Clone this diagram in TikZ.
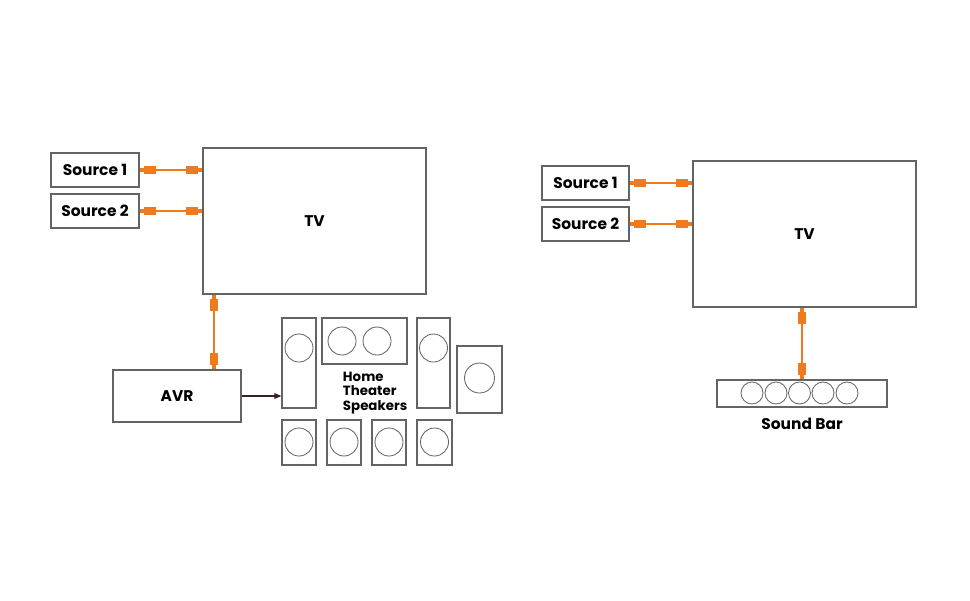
\documentclass[tikz,border=0pt]{standalone}
\usepackage{fontspec}
\setmainfont{Poppins}
\usetikzlibrary{arrows.meta}

\definecolor{cableorange}{RGB}{240,122,30}
\definecolor{boxgray}{RGB}{100,100,100}
\definecolor{arrowbrown}{RGB}{60,30,30}

\tikzset{
  box/.style={draw=boxgray, line width=0.8pt, inner sep=0pt, font=\bfseries\fontsize{11}{13}\selectfont},
  spk/.style={draw=boxgray, line width=0.8pt, inner sep=0pt},
  cone/.style={draw=boxgray, line width=0.6pt},
  plug/.tip={Rectangle[length=9pt, width=6pt] Rectangle[length=3pt, width=2.4pt]},
  cable/.style={cableorange, line width=1.1pt, {Rectangle[length=3pt, width=2.4pt] Rectangle[length=9pt, width=6pt]}-plug},
}

\begin{document}
\begin{tikzpicture}[x=0.025cm, y=-0.025cm]
    \useasboundingbox (0,0) rectangle (970,600);

    % left: tv with avr
    \node[box, minimum width=2.2cm, minimum height=0.85cm] (src1L) at (95, 170) {Source 1};
    \node[box, minimum width=2.2cm, minimum height=0.85cm] (src2L) at (95, 211) {Source 2};
    \node[box, minimum width=5.575cm, minimum height=3.65cm] (tvL) at (314.5, 221) {TV};
    \node[box, minimum width=3.2cm, minimum height=1.3cm] (avr) at (177, 396) {AVR};
    \coordinate (jackL) at ([xshift=0.2875cm]tvL.south west);

    \draw[cable] (src1L.east) -- (src1L.east -| tvL.west);
    \draw[cable] (src2L.east) -- (src2L.east -| tvL.west);
    \draw[cable] (jackL) -- (jackL |- avr.north);

    % speakers
    \node[spk, minimum width=0.85cm, minimum height=2.25cm] (fl) at (299, 363) {};
    \node[spk, minimum width=2.125cm, minimum height=1.15cm] (ctr) at (364.5, 341) {};
    \node[spk, minimum width=0.825cm, minimum height=2.25cm] (fr) at (433.5, 363) {};
    \node[spk, minimum width=1.125cm, minimum height=1.675cm] (sub) at (479.5, 379.5) {};
    \node[spk, minimum width=0.85cm, minimum height=1.125cm] (rl1) at (299, 442.5) {};
    \node[spk, minimum width=0.85cm, minimum height=1.125cm] (rl2) at (344, 442.5) {};
    \node[spk, minimum width=0.85cm, minimum height=1.125cm] (rr1) at (389, 442.5) {};
    \node[spk, minimum width=0.875cm, minimum height=1.125cm] (rr2) at (434.5, 442.5) {};

    \draw[cone] (299, 348) circle (14);
    \draw[cone] (342, 341) circle (14);
    \draw[cone] (377, 341) circle (14);
    \draw[cone] (433.5, 348) circle (14);
    \draw[cone] (479.5, 378) circle (15);
    \foreach \x in {299, 344, 389, 434.5}
      \draw[cone] (\x, 442) circle (14);

    \node[anchor=west, align=left, font=\bfseries\fontsize{9.5}{10.5}\selectfont] (hts) at (338, 393) {Home\\Theater\\Speakers};

    \draw[arrowbrown, line width=0.8pt, -{Triangle[length=5pt, width=4pt]}] (avr.east) -- (avr.east -| fl.west);

    % right: tv with sound bar
    \node[box, minimum width=2.175cm, minimum height=0.85cm] (src1R) at (585.5, 183) {Source 1};
    \node[box, minimum width=2.175cm, minimum height=0.85cm] (src2R) at (585.5, 224) {Source 2};
    \node[box, minimum width=5.575cm, minimum height=3.65cm] (tvR) at (804.5, 234) {TV};
    \node[box, minimum width=4.25cm, minimum height=0.675cm, label={[font=\bfseries\fontsize{11}{13}\selectfont, label distance=4pt]below:Sound Bar}] (bar) at (802, 393.5) {};

    \draw[cable] (src1R.east) -- (src1R.east -| tvR.west);
    \draw[cable] (src2R.east) -- (src2R.east -| tvR.west);
    \draw[cable] (tvR.south -| bar.north) -- (bar.north);

    \foreach \x in {752, 776, 799.5, 823, 847}
      \draw[cone] (\x, 393) circle (11);

  \end{tikzpicture}
\end{document}
